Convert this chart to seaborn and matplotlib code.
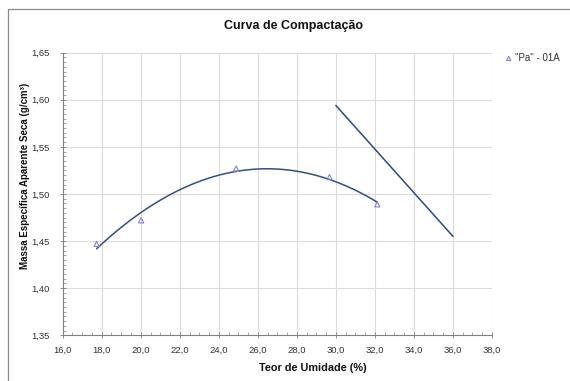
import matplotlib
matplotlib.use("Agg")
import matplotlib.pyplot as plt
from matplotlib.lines import Line2D
from matplotlib.ticker import MultipleLocator, FuncFormatter
import numpy as np
import pandas as pd
import seaborn as sns

# Compaction test results: moisture content (%) vs dry unit weight (g/cm³)
teor_umidade = [17.74, 20.02, 24.89, 29.67, 32.12]
massa_especifica = [1.447, 1.472, 1.527, 1.518, 1.489]
serie_nome = '"Pa" - 01A'

# Saturation line end points
sat_umidade = [30.0, 36.0]
sat_massa = [1.594, 1.455]

x_ticks_lim = (16.0, 38.0)
y_ticks_lim = (1.35, 1.65)

sns.set_style("white")
plt.rcParams["font.family"] = ["Liberation Sans", "DejaVu Sans"]

W, H = 570, 381
fig = plt.figure(figsize=(W / 100, H / 100), dpi=100)
fig.patch.set_facecolor("white")

ax = fig.add_axes([62.7 / W, 1 - 335.3 / H, (492 - 62.7) / W, (335.3 - 52.7) / H])

df = pd.DataFrame({"umidade": teor_umidade, "massa": massa_especifica})
sat = pd.DataFrame({"umidade": sat_umidade, "massa": sat_massa})

# second-order trend curve through the test points
sns.regplot(data=df, x="umidade", y="massa", order=2, ci=None, scatter=False,
            truncate=True, ax=ax, line_kws=dict(color="#34507f", lw=1.1))
sns.lineplot(data=sat, x="umidade", y="massa", ax=ax, color="#2c4b80", lw=1.1)
sns.scatterplot(data=df, x="umidade", y="massa", ax=ax, marker="^", s=14,
                facecolors="none", edgecolor="#8585d2", linewidth=0.8,
                label=serie_nome, zorder=5)

ax.set_xlim(*x_ticks_lim)
ax.set_ylim(*y_ticks_lim)
ax.xaxis.set_major_locator(MultipleLocator(2.0))
ax.xaxis.set_minor_locator(MultipleLocator(0.5))
ax.yaxis.set_major_locator(MultipleLocator(0.05))
ax.yaxis.set_minor_locator(MultipleLocator(0.005))
ax.xaxis.set_major_formatter(FuncFormatter(lambda v, p: f"{v:.1f}".replace(".", ",")))
ax.yaxis.set_major_formatter(FuncFormatter(lambda v, p: f"{v:.2f}".replace(".", ",")))

ax.grid(True, which="major", color="#dcdcdc", lw=0.8)
ax.set_axisbelow(True)
for s in ["top", "right"]:
    ax.spines[s].set_visible(False)
for s in ["left", "bottom"]:
    ax.spines[s].set_color("#808080")
    ax.spines[s].set_linewidth(0.8)

ax.tick_params(which="major", direction="inout", length=4, width=0.6, color="#808080",
               labelsize=6.8, labelcolor="#333333")
ax.tick_params(axis="x", which="major", pad=5.5)
ax.tick_params(axis="y", which="major", pad=7.5)
ax.tick_params(which="minor", direction="in", length=2, width=0.5, color="#808080")
ax.tick_params(which="both", bottom=True, left=True)

ax.set_xlabel("")
ax.set_ylabel("")

fig.text(293 / W, 1 - 26 / H, "Curva de Compactação", ha="center", va="center",
         fontsize=9, fontweight="bold", color="#111111")
fig.text(313 / W, 1 - 368 / H, "Teor de Umidade (%)", ha="center", va="center",
         fontsize=7.8, fontweight="bold", color="#111111")
fig.text(25 / W, 1 - 176 / H, "Massa Específica Aparente Seca (g/cm³)", ha="center",
         va="center", rotation=90, fontsize=7.0, fontweight="bold", color="#111111")

ax.legend(loc="center left", bbox_to_anchor=(500 / W, 1 - 58 / H),
          bbox_transform=fig.transFigure, frameon=False, fontsize=7,
          handletextpad=0.1, borderaxespad=0, handlelength=1.0, markerscale=0.8,
          labelcolor="#333333")

# outer chart frame
fig.add_artist(Line2D([7.5 / W, 7.5 / W], [0, 1 - 9 / H], color="#8a8a8a", lw=0.9))
fig.add_artist(Line2D([7.5 / W, 1], [1 - 9 / H, 1 - 9 / H], color="#8a8a8a", lw=0.9))

fig.savefig("out.png", dpi=100)
